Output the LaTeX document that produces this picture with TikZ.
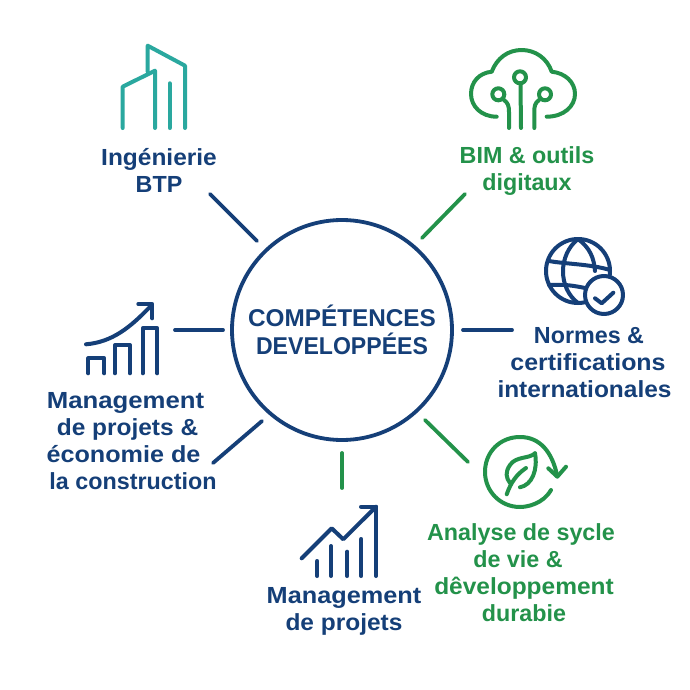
\documentclass[tikz,border=0pt]{standalone}
\usepackage{fontspec}
\setmainfont{Liberation Sans}
\definecolor{navy}{HTML}{153F78}
\definecolor{leaf}{HTML}{23924A}
\definecolor{teal2}{HTML}{2AA89F}
% one printed line: left pad, horizontal scale, text, right pad
\newcommand{\printline}[4]{\mbox{\kern#1pt\scalebox{#2}[1]{#3}\kern#4pt}}
\tikzset{
  lab/.style={align=center,font=\fontsize{23.3}{27}\selectfont\bfseries,inner sep=0pt},
  spoke/.style={line width=3.8pt,line cap=round},
  ico/.style={line width=4pt,line cap=round,line join=round},
}
\begin{document}
\begin{tikzpicture}[x=1pt,y=-1pt]
\useasboundingbox (0,0) rectangle (690,690);
\fill[white] (0,0) rectangle (690,690);
% hub
\node[circle,draw=navy,line width=3.8pt,minimum size=220pt,inner sep=0pt,align=center,text=navy,font=\fontsize{24.3}{28}\selectfont\bfseries] (hub) at (342,330) {COMPÉTENCES\\\printline{0}{0.95}{DEVELOPPÉES}{0}};
% labels
\node[lab,text=navy] (btp) at (159,170) {\printline{0}{1.05}{Ingénierie}{0}\\BTP};
\node[lab,text=leaf] (bim) at (527,171.5) {BIM \& outils\\digitaux};
\node[lab,text=navy] (norm) at (589,362.5) {Normes \&\\\printline{0}{1.07}{certifications}{2}\\\printline{0}{1.05}{internationales}{9}};
\node[lab,text=navy] (eco) at (133,441.5) {\printline{0}{1.105}{Management}{15}\\\printline{0}{1.05}{de projets \&}{11}\\\printline{0}{1.08}{économie de}{19}\\la construction};
\node[lab,text=navy] (mgt) at (344,611.5) {\printline{0}{1.085}{Management}{0}\\\printline{0}{1.05}{de projets}{0}};
\node[lab,text=leaf] (acv) at (521,572.5) {Analyse de sycle\\\printline{0}{1}{de vie \&}{6}\\\printline{6}{1.05}{dêveloppement}{0}\\\printline{6}{1}{durabie}{0}};
% spokes
\coordinate (a1) at (210,194); \coordinate (a2) at (257,241);
\coordinate (b1) at (422,238); \coordinate (b2) at (465,194);
\coordinate (c1) at (463,330); \coordinate (c2) at (512,330);
\coordinate (d1) at (425,420); \coordinate (d2) at (468,462);
\coordinate (e1) at (342,453); \coordinate (e2) at (342,488);
\coordinate (f1) at (262,421); \coordinate (f2) at (213,463);
\coordinate (g1) at (175,330); \coordinate (g2) at (223,330);
\draw[spoke,navy] (a1) -- (a2);
\draw[spoke,leaf] (b1) -- (b2);
\draw[spoke,navy] (c1) -- (c2);
\draw[spoke,leaf] (d1) -- (d2);
\draw[spoke,leaf] (e1) -- (e2);
\draw[spoke,navy] (f1) -- (f2);
\draw[spoke,navy] (g1) -- (g2);
% building
\begin{scope}[ico,draw=teal2]
\draw (147.7,71.7) -- (147.7,45.7) -- (185,65.7) -- (185,128);
\draw (122.7,128) -- (122.7,86.7) -- (155,70.7) -- (155,128);
\draw (169.7,83.3) -- (169.7,128);
\end{scope}
% cloud
\begin{scope}[ico,draw=leaf]
\draw (496.7,116.7) .. controls (481,116.7) and (471,106) .. (471,94)
  .. controls (471,82) and (479,73) .. (491.7,71.7)
  .. controls (497,58) and (508,50) .. (521.7,50)
  .. controls (535,50) and (547,58) .. (551.7,71.7)
  .. controls (565,73) and (575,82) .. (575,94)
  .. controls (575,106) and (564,116.7) .. (546.7,116.7);
\draw (520,77.3) circle[radius=6];
\draw (498.3,94.3) circle[radius=6];
\draw (545,94.3) circle[radius=6];
\draw (520.5,84) -- (521,128);
\draw (504,100) .. controls (508,103) and (509,106) .. (509,112) -- (509,128);
\draw (539,100) .. controls (535,103) and (534.3,106) .. (534.3,112) -- (534.3,128);
\end{scope}
% globe
\begin{scope}[ico,draw=navy]
\draw (578,271) circle[radius=32];
\draw (578,239) .. controls (558,255) and (558,288) .. (578,303);
\draw (578,239) .. controls (590,248) and (594,258) .. (595,271);
\draw (549,261) .. controls (565,264) and (590,264) .. (610,270);
\draw (549,285) .. controls (565,284) and (575,286) .. (585,288);
\draw[fill=white] (604,295) circle[radius=19];
\draw (595,298.3) -- (601.7,303.3) -- (613.3,292.7);
\end{scope}
% cycle and leaf
\begin{scope}[ico,draw=leaf]
\draw (551,490) .. controls (543,504) and (527,507) .. (520,507)
  .. controls (500,507) and (485,491) .. (485,472)
  .. controls (485,452) and (500,437) .. (520,437)
  .. controls (540,437) and (552,452) .. (557,475);
\draw (548.3,468.3) -- (557.3,476.7) -- (566,466.7);
\draw (535,453.3) .. controls (529,459) and (516,456) .. (510,465)
  .. controls (505,472) and (506,478) .. (510,483);
\draw (535,453.3) .. controls (538,470) and (532,485) .. (520,487.3);
\draw (506.7,494.3) .. controls (511,482) and (517,474) .. (526,468);
\end{scope}
% rising chart with curved arrow
\begin{scope}[ico,draw=navy]
\draw (88.3,373.3) -- (88.3,358.3) -- (104.3,358.3) -- (104.3,373.3);
\draw (115,373.3) -- (115,345) -- (130,345) -- (130,373.3);
\draw (142.7,373.3) -- (142.7,328.3) -- (157.3,328.3) -- (157.3,373.3);
\draw (86,344.3) .. controls (112,342) and (130,328) .. (151.7,305);
\draw (138.3,304) -- (152.3,304) -- (152.3,318.3);
\end{scope}
% zigzag chart
\begin{scope}[ico,draw=navy]
\draw (301.7,558.3) -- (331.7,528.3) -- (343.3,539.3) -- (376,506.7);
\draw (361,506.7) -- (376,506.7) -- (376,576);
\draw (317.3,561) -- (317.3,576);
\draw (331,546) -- (331,576);
\draw (347.3,551.7) -- (347.3,576);
\draw (361.3,539) -- (361.3,576);
\end{scope}
\end{tikzpicture}
\end{document}
